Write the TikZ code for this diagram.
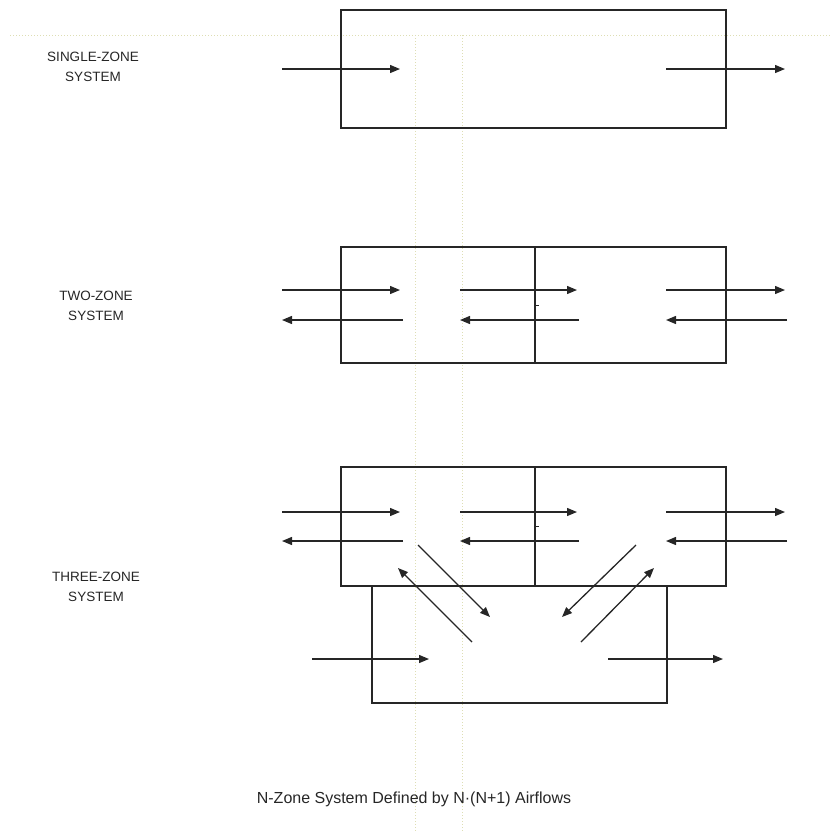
\documentclass[tikz,border=0pt]{standalone}
\usepackage{fontspec}
\setmainfont{Liberation Sans}
\usetikzlibrary{arrows.meta}
\tikzset{
  zonebox/.style={draw=black!85, line width=1.3pt, inner sep=0pt, rectangle},
  flow/.style={draw=black!85, line width=1.3pt, -{Triangle[length=10pt,width=8pt]}},
  guide/.style={draw={rgb,255:red,222;green,222;blue,180}, line width=1pt, dotted},
  label/.style={font=\fontsize{13.5}{20}\selectfont, align=center, text=black!85},
}
\begin{document}
\begin{tikzpicture}[x=1pt,y=-1pt]
\useasboundingbox (0,0) rectangle (830,831);

% faint construction guides
\draw[guide] (10,35) -- (830,35);
\draw[guide] (415,35) -- (415,831);
\draw[guide] (462,35) -- (462,831);

% ---------- single zone ----------
\node[zonebox, minimum width=385pt, minimum height=118pt] (s1) at (533.5,69) {};
\node[label] (ls) at (93,67) {SINGLE-ZONE\\SYSTEM};
\coordinate (s1in) at (282,69);
\coordinate (s1a) at (400,69);
\coordinate (s1b) at (666,69);
\coordinate (s1out) at (785,69);
\draw[flow] (s1in) -- (s1a);
\draw[flow] (s1b) -- (s1out);

% ---------- two zones ----------
\node[zonebox, minimum width=194pt, minimum height=116pt] (t1) at (438,305) {};
\node[zonebox, minimum width=191pt, minimum height=116pt] (t2) at (630.5,305) {};
\node[label] (lt) at (96,306) {TWO-ZONE\\SYSTEM};
\coordinate (tp1) at (282,290);
\coordinate (tp2) at (400,290);
\coordinate (tp3) at (460,290);
\coordinate (tp4) at (577,290);
\coordinate (tp5) at (666,290);
\coordinate (tp6) at (785,290);
\coordinate (tq1) at (282,320);
\coordinate (tq2) at (403,320);
\coordinate (tq3) at (460,320);
\coordinate (tq4) at (579,320);
\coordinate (tq5) at (666,320);
\coordinate (tq6) at (787,320);
\draw[flow] (tp1) -- (tp2);
\draw[flow] (tp3) -- (tp4);
\draw[flow] (tp5) -- (tp6);
\draw[flow] (tq2) -- (tq1);
\draw[flow] (tq4) -- (tq3);
\draw[flow] (tq6) -- (tq5);
\draw[black!85, line width=1pt] (535,305) -- (539,305);

% ---------- three zones ----------
\node[zonebox, minimum width=194pt, minimum height=119pt] (h1) at (438,526.5) {};
\node[zonebox, minimum width=191pt, minimum height=119pt] (h2) at (630.5,526.5) {};
\node[zonebox, minimum width=295pt, minimum height=117pt] (h3) at (519.5,644.5) {};
\node[label] (lh) at (96,587) {THREE-ZONE\\SYSTEM};
\coordinate (hp1) at (282,512);
\coordinate (hp2) at (400,512);
\coordinate (hp3) at (460,512);
\coordinate (hp4) at (577,512);
\coordinate (hp5) at (666,512);
\coordinate (hp6) at (785,512);
\coordinate (hq1) at (282,541);
\coordinate (hq2) at (403,541);
\coordinate (hq3) at (460,541);
\coordinate (hq4) at (579,541);
\coordinate (hq5) at (666,541);
\coordinate (hq6) at (787,541);
\draw[flow] (hp1) -- (hp2);
\draw[flow] (hp3) -- (hp4);
\draw[flow] (hp5) -- (hp6);
\draw[flow] (hq2) -- (hq1);
\draw[flow] (hq4) -- (hq3);
\draw[flow] (hq6) -- (hq5);
\draw[black!85, line width=1pt] (535,526) -- (539,526);
% diagonal exchanges with the lower zone
\coordinate (dl1) at (418,545);
\coordinate (dl2) at (490,617);
\coordinate (dl3) at (472,642);
\coordinate (dl4) at (398,568);
\coordinate (dr1) at (636,545);
\coordinate (dr2) at (562,617);
\coordinate (dr3) at (581,642);
\coordinate (dr4) at (654,568);
\draw[flow] (dl1) -- (dl2);
\draw[flow] (dl3) -- (dl4);
\draw[flow] (dr1) -- (dr2);
\draw[flow] (dr3) -- (dr4);
% lower zone through-flow
\coordinate (hb1) at (312,659);
\coordinate (hb2) at (429,659);
\coordinate (hb3) at (608,659);
\coordinate (hb4) at (723,659);
\draw[flow] (hb1) -- (hb2);
\draw[flow] (hb3) -- (hb4);

% caption
\node[font=\fontsize{16}{20}\selectfont, text=black!85] (cap) at (414,799) {N-Zone System Defined by N\textperiodcentered(N+1) Airflows};
\end{tikzpicture}
\end{document}
